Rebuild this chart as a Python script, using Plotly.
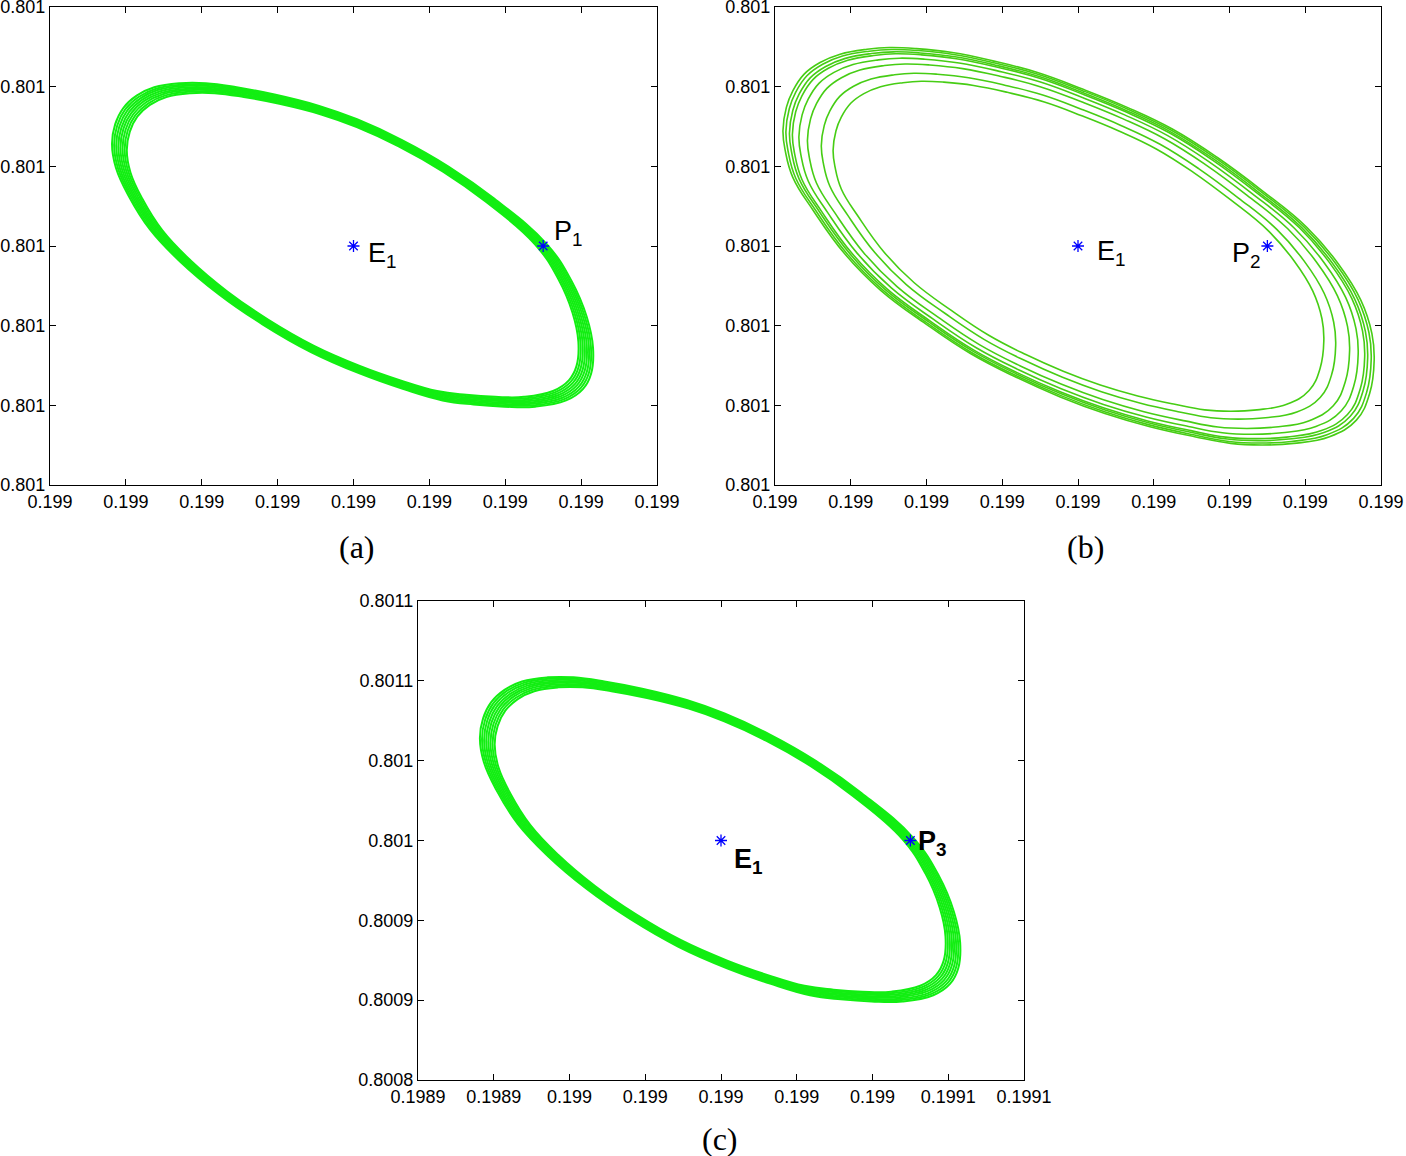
import numpy as np
import plotly.graph_objects as go

# Equilibrium E1 and the starting points P1, P2, P3 (same in every panel)
e1_x, e1_y = 0.199, 0.801
p_x = [0.19905, 0.19905, 0.19905]
p_y = [0.801, 0.801, 0.801]

# Axis ticks (shared range) and the labels printed in each panel
x_ticks = [0.19892, 0.19894, 0.19896, 0.19898, 0.199, 0.19902, 0.19904, 0.19906, 0.19908]
y_ticks = [0.80085, 0.8009, 0.80095, 0.801, 0.80105, 0.8011, 0.80115]
x_text_ab = ['0.199'] * 9
y_text_ab = ['0.801'] * 7
x_text_c = ['0.1989', '0.1989', '0.199', '0.199', '0.199', '0.199', '0.199', '0.1991', '0.1991']
y_text_c = ['0.8008', '0.8009', '0.8009', '0.801', '0.801', '0.8011', '0.8011']

# Limit cycle of panels (a) and (c): middle of the green band
cycle_x = [0.1989382, 0.1989390, 0.1989411, 0.1989445, 0.1989490, 0.1989556, 0.1989622,
           0.1989701, 0.1989798, 0.1989912, 0.1990009, 0.1990123, 0.1990244, 0.1990360,
           0.1990494, 0.1990558, 0.1990597, 0.1990613, 0.1990608, 0.1990587, 0.1990544,
           0.1990465, 0.1990386, 0.1990307, 0.1990228, 0.1990128, 0.1990017, 0.1989891,
           0.1989767, 0.1989656, 0.1989556, 0.1989479, 0.1989424, 0.1989392]
cycle_y = [0.8010621, 0.8010741, 0.8010841, 0.8010916, 0.8010967, 0.8010992, 0.8010992,
           0.8010967, 0.8010923, 0.8010854, 0.8010772, 0.8010647, 0.8010483, 0.8010289,
           0.8010013, 0.8009787, 0.8009567, 0.8009379, 0.8009222, 0.8009128, 0.8009059,
           0.8009021, 0.8009021, 0.8009034, 0.8009059, 0.8009128, 0.8009222, 0.8009354,
           0.8009523, 0.8009705, 0.8009906, 0.8010101, 0.8010308, 0.8010477]
# relative size of the turns that make up the band
band_sizes = [0.967, 0.976, 0.985, 0.994, 1.003, 1.012, 1.021, 1.030]

# Panel (b): outermost turn of the orbit and relative size of each turn
orbit_x = [0.1989221, 0.1989230, 0.1989247, 0.1989277, 0.1989319, 0.1989372, 0.1989443,
           0.1989502, 0.1989573, 0.1989668, 0.1989775, 0.1989893, 0.1990012, 0.1990130,
           0.1990249, 0.1990367, 0.1990486, 0.1990604, 0.1990687, 0.1990747, 0.1990776,
           0.1990782, 0.1990770, 0.1990735, 0.1990664, 0.1990569, 0.1990486, 0.1990403,
           0.1990308, 0.1990190, 0.1990071, 0.1989953, 0.1989834, 0.1989716, 0.1989597,
           0.1989479, 0.1989384, 0.1989301, 0.1989247, 0.1989227]
orbit_y = [0.8010724, 0.8010870, 0.8010974, 0.8011079, 0.8011152, 0.8011204, 0.8011235,
           0.8011246, 0.8011239, 0.8011214, 0.8011162, 0.8011089, 0.8010985, 0.8010870,
           0.8010734, 0.8010557, 0.8010348, 0.8010118, 0.8009889, 0.8009659, 0.8009450,
           0.8009283, 0.8009074, 0.8008907, 0.8008803, 0.8008761, 0.8008751, 0.8008761,
           0.8008803, 0.8008866, 0.8008949, 0.8009053, 0.8009179, 0.8009325, 0.8009513,
           0.8009722, 0.8009951, 0.8010223, 0.8010431, 0.8010599]
orbit_sizes = [0.83, 0.87, 0.917, 0.946, 0.968, 0.978, 0.99, 1.0]

W, H = 1406, 1156
LIME = 'rgb(18,238,18)'
ORBIT_GREEN = 'rgb(70,205,20)'
TICK_FONT = dict(family='Liberation Sans, Arial', size=18, color='black')
LABEL_FONT = dict(family='Liberation Sans, Arial', size=27, color='black')


def turn(xs, ys, s):
    ''' One closed turn of the orbit, sized s relative to E1 '''
    x = e1_x + s * (np.array(xs + xs[:1]) - e1_x)
    y = e1_y + s * (np.array(ys + ys[:1]) - e1_y)
    return x, y


fig = go.Figure()

panels = [('x', 'y'), ('x2', 'y2'), ('x3', 'y3')]

# Green trajectories
for (xa, ya), xs, ys, sizes, color, width in [
        (panels[0], cycle_x, cycle_y, band_sizes, LIME, 2),
        (panels[1], orbit_x, orbit_y, orbit_sizes, ORBIT_GREEN, 1.6),
        (panels[2], cycle_x, cycle_y, band_sizes, LIME, 2)]:
    for s in sizes:
        tx, ty = turn(xs, ys, s)
        fig.add_trace(go.Scatter(x=tx, y=ty, mode='lines', xaxis=xa, yaxis=ya,
                                 line=dict(color=color, width=width, shape='spline', smoothing=1.2),
                                 showlegend=False, hoverinfo='skip'))

# Blue star markers for E1 and P_k
for k, (xa, ya) in enumerate(panels):
    fig.add_trace(go.Scatter(x=[e1_x, p_x[k]], y=[e1_y, p_y[k]], mode='markers', xaxis=xa, yaxis=ya,
                             marker=dict(symbol='asterisk-open', size=10, color='blue',
                                         line=dict(color='blue', width=1.3)),
                             showlegend=False))

# Axes in MATLAB box style
domains = [([50 / W, 657 / W], [1 - 485 / H, 1 - 7 / H]),
           ([775 / W, 1381 / W], [1 - 485 / H, 1 - 7 / H]),
           ([418 / W, 1024 / W], [1 - 1080 / H, 1 - 601 / H])]
tick_texts = [(x_text_ab, y_text_ab), (x_text_ab, y_text_ab), (x_text_c, y_text_c)]
layout = {}
for k in range(3):
    suffix = '' if k == 0 else str(k + 1)
    common = dict(showline=True, linecolor='black', linewidth=1.2, mirror='allticks',
                  ticks='inside', ticklen=6, tickcolor='black', showgrid=False,
                  zeroline=False, tickfont=TICK_FONT, tickmode='array', automargin=False,
                  ticklabeloverflow='allow')
    layout['xaxis' + suffix] = dict(domain=domains[k][0], range=[x_ticks[0], x_ticks[-1]],
                                    tickvals=x_ticks, ticktext=tick_texts[k][0],
                                    anchor='y' + suffix, **common)
    layout['yaxis' + suffix] = dict(domain=domains[k][1], range=[y_ticks[0], y_ticks[-1]],
                                    tickvals=y_ticks, ticktext=tick_texts[k][1],
                                    anchor='x' + suffix, **common)

bold = dict(LABEL_FONT, weight='bold')
annotations = [
    dict(x=e1_x, y=e1_y, xref='x', yref='y', text='E<sub>1</sub>', showarrow=False,
         xanchor='left', yanchor='top', xshift=12, yshift=10, font=LABEL_FONT),
    dict(x=p_x[0], y=p_y[0], xref='x', yref='y', text='P<sub>1</sub>', showarrow=False,
         xanchor='left', yanchor='top', xshift=9, yshift=32, font=LABEL_FONT),
    dict(x=e1_x, y=e1_y, xref='x2', yref='y2', text='E<sub>1</sub>', showarrow=False,
         xanchor='left', yanchor='top', xshift=17, yshift=12, font=LABEL_FONT),
    dict(x=p_x[1], y=p_y[1], xref='x2', yref='y2', text='P<sub>2</sub>', showarrow=False,
         xanchor='right', yanchor='top', xshift=-4, yshift=10, font=LABEL_FONT),
    dict(x=e1_x, y=e1_y, xref='x3', yref='y3', text='E<sub>1</sub>', showarrow=False,
         xanchor='left', yanchor='top', xshift=11, yshift=-1, font=bold),
    dict(x=p_x[2], y=p_y[2], xref='x3', yref='y3', text='P<sub>3</sub>', showarrow=False,
         xanchor='left', yanchor='top', xshift=6, yshift=17, font=bold),
]
caption_font = dict(family='Liberation Serif, Times New Roman', size=32, color='black')
for txt, cx, cy in [('(a)', 357, 547), ('(b)', 1085, 547), ('(c)', 720, 1139)]:
    annotations.append(dict(x=cx / W, y=1 - cy / H, xref='paper', yref='paper', text=txt,
                            showarrow=False, xanchor='center', yanchor='middle', font=caption_font))

fig.update_layout(width=W, height=H, autosize=False, margin=dict(l=0, r=0, t=0, b=0),
                  paper_bgcolor='white', plot_bgcolor='white', annotations=annotations,
                  showlegend=False, **layout)

# the page body keeps no margin so the figure sits at the window corner
fig.write_html("out.html", config={'displayModeBar': False},
               post_script="document.body.style.margin = '0';")
